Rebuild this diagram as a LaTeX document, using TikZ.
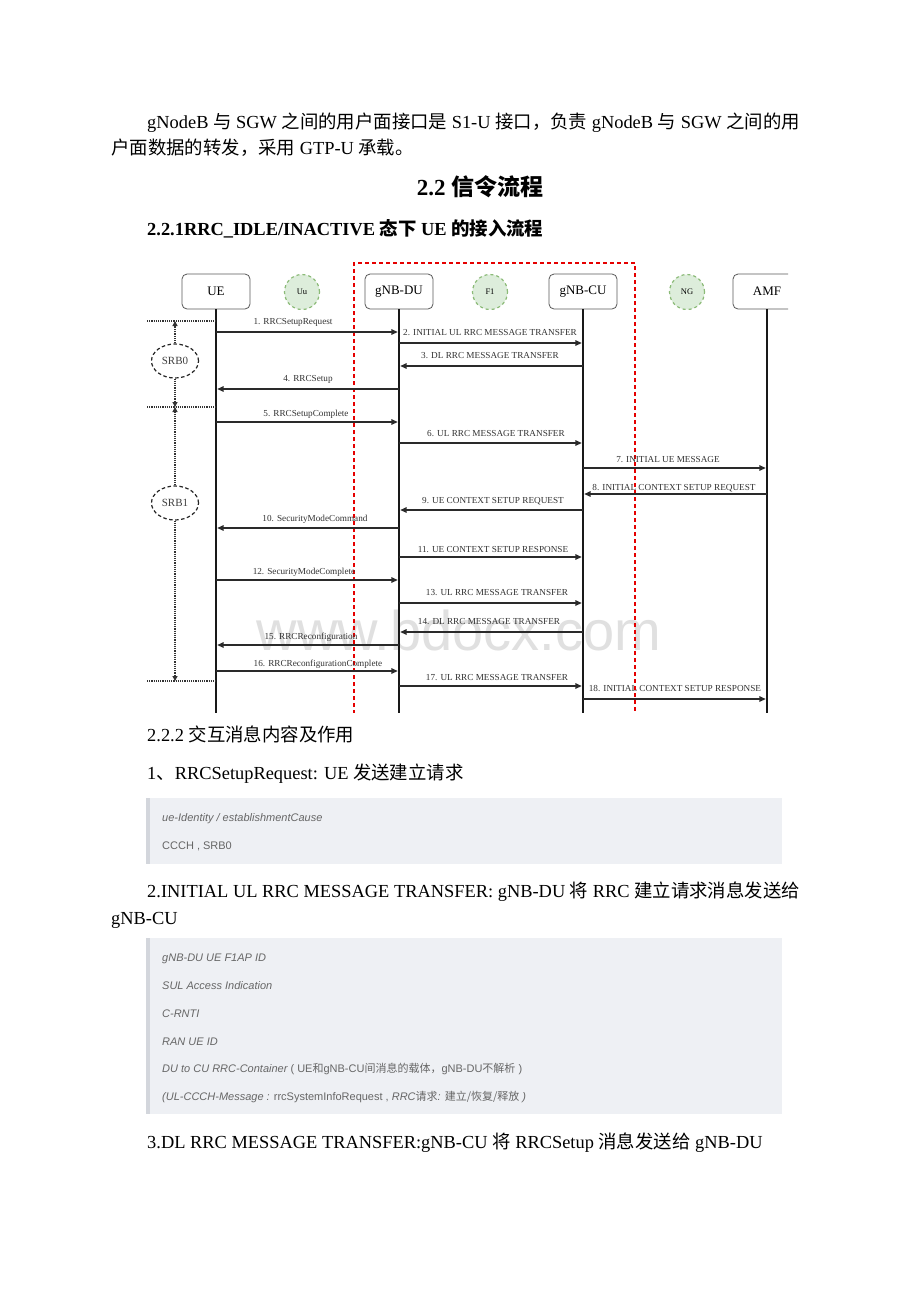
\documentclass[tikz,border=0pt]{standalone}
\usepackage{fontspec}
\setmainfont{Liberation Serif}
\newfontfamily\cjkf{Noto Sans CJK SC}
\newfontfamily\boxfont{Liberation Sans}
\usetikzlibrary{arrows.meta,shapes.geometric}
\newcommand\zh[1]{{\cjkf #1}}
\definecolor{boxbg}{HTML}{EEF0F4}
\definecolor{boxedge}{HTML}{D3D6DC}
\definecolor{boxtxt}{HTML}{666666}
\definecolor{greenfill}{HTML}{DDEDDB}
\definecolor{greenline}{HTML}{8CBB78}
\definecolor{msgc}{HTML}{2A2A2A}
\definecolor{wmc}{HTML}{E0E0E0}
\definecolor{lblc}{HTML}{333333}
\tikzset{
  body/.style={anchor=base west,inner sep=0pt,font=\fontsize{18.4}{22}\selectfont},
  head/.style={anchor=base west,inner sep=0pt,font=\fontsize{18.4}{22}\selectfont\bfseries},
  boxtext/.style={anchor=base west,inner sep=0pt,text=boxtxt,font=\boxfont\fontsize{11}{13}\selectfont},
  actor/.style={draw=black!65,line width=0.8pt,rounded corners=5pt,fill=white,minimum width=68pt,minimum height=35pt,inner sep=0pt,font=\fontsize{13}{15}\selectfont},
  iface/.style={circle,draw=greenline,fill=greenfill,dashed,line width=1.2pt,minimum size=35pt,inner sep=0pt,font=\fontsize{8.5}{9}\selectfont},
  srb/.style={ellipse,draw=black!85,dash pattern=on 3.5pt off 2.5pt,line width=1.2pt,minimum width=47pt,minimum height=34pt,inner sep=0pt,text=black!75,font=\fontsize{11}{13}\selectfont},
  life/.style={line width=2.6pt,draw=black!90},
  msg/.style={line width=1.5pt,draw=msgc,-{Triangle[length=6.5pt,width=5.5pt]},shorten >=1.2pt},
  lbl/.style={anchor=base,inner sep=0pt,text=lblc,font=\fontsize{9.2}{11}\selectfont},
  dotl/.style={densely dotted,line width=1.2pt,draw=black!80},
  dotarr/.style={densely dotted,line width=1.2pt,draw=black!80,-{Triangle[length=5pt,width=5pt]}},
  reddash/.style={draw=red!90!black,line width=1.6pt,dash pattern=on 4pt off 3pt}
}
\begin{document}
\begin{tikzpicture}[x=1pt,y=-1pt]
\useasboundingbox (0,0) rectangle (920,1302);
\fill[white] (0,0) rectangle (920,1302);

% ---- text above diagram ----
\node[body] (p1) at (147,128) {gNodeB \zh{与} SGW \zh{之间的用户面接口是} S1-U \zh{接口，负责} gNodeB \zh{与} SGW \zh{之间的用}};
\node[body] (p2) at (111,154) {\zh{户面数据的转发，采用} GTP-U \zh{承载。}};
\node[anchor=base,inner sep=0pt,font=\fontsize{23}{26}\selectfont\bfseries] (title) at (480,195) {2.2 \zh{信令流程}};
\node[head] (sub1) at (147,235) {2.2.1RRC\_IDLE/INACTIVE \zh{态下} UE \zh{的接入流程}};

% ---- diagram ----
\node[anchor=base,inner sep=0pt,text=wmc,font=\boxfont\fontsize{56}{60}\selectfont] (wmark) at (459,650) {www.bdocx.com};
\begin{scope}
\clip (140,255) rectangle (788,712);
\draw[reddash] (354,714) -- (354,263) -- (635,263) -- (635,714);
\node[actor] (UE) at (216,291.5) {UE};
\node[actor] (DU) at (399,291.5) {gNB-DU};
\node[actor] (CU) at (583,291.5) {gNB-CU};
\node[actor] (AMF) at (767,291.5) {AMF};
\node[iface] (Uu) at (302,292) {Uu};
\node[iface] (F1) at (490,292) {F1};
\node[iface] (NG) at (687,292) {NG};
\coordinate (bot) at (0,714);
\draw[life] (UE.south) -- (UE.south |- bot);
\draw[life] (DU.south) -- (DU.south |- bot);
\draw[life] (CU.south) -- (CU.south |- bot);
\draw[life] (AMF.south) -- (AMF.south |- bot);

\foreach \y/\a/\b/\t/\lx/\ly in {
  332/UE/DU/{1. RRCSetupRequest}/293/321,
  343/DU/CU/{2. INITIAL UL RRC MESSAGE TRANSFER}/490/332,
  366/CU/DU/{3. DL RRC MESSAGE TRANSFER}/490/355,
  389/DU/UE/{4. RRCSetup}/308/378,
  422/UE/DU/{5. RRCSetupComplete}/306/413,
  443/DU/CU/{6. UL RRC MESSAGE TRANSFER}/496/433,
  468/CU/AMF/{7. INITIAL UE MESSAGE}/668/459,
  494/AMF/CU/{8. INITIAL CONTEXT SETUP REQUEST}/674/487,
  510/CU/DU/{9. UE CONTEXT SETUP REQUEST}/493/500,
  528/DU/UE/{10. SecurityModeCommand}/315/518,
  557/DU/CU/{11. UE CONTEXT SETUP RESPONSE}/493/549,
  580/UE/DU/{12. SecurityModeComplete}/304/571,
  603/DU/CU/{13. UL RRC MESSAGE TRANSFER}/497/592,
  632/CU/DU/{14. DL RRC MESSAGE TRANSFER}/489/621,
  645/DU/UE/{15. RRCReconfiguration}/311/636,
  671/UE/DU/{16. RRCReconfigurationComplete}/318/663,
  686/DU/CU/{17. UL RRC MESSAGE TRANSFER}/497/677,
  699/CU/AMF/{18. INITIAL CONTEXT SETUP RESPONSE}/675/688}{
  \draw[msg] (\a |- 0,\y) -- (\b |- 0,\y);
  \node[lbl] (m\y) at (\lx,\ly+3) {\t};
}

% SRB brackets
\coordinate (b0) at (147,321);
\coordinate (b1) at (147,407);
\coordinate (b2) at (147,681);
\draw[dotl] (b0) -- (b0 -| UE);
\draw[dotl] (b1) -- (b1 -| UE);
\draw[dotl] (b2) -- (b2 -| UE);
\node[srb] (SRB0) at (175,361) {SRB0};
\node[srb] (SRB1) at (175,503) {SRB1};
\draw[dotarr] (SRB0.north) -- (SRB0.north |- b0);
\draw[dotarr] (SRB0.south) -- (SRB0.south |- b1);
\draw[dotarr] (SRB1.north) -- (SRB1.north |- b1);
\draw[dotarr] (SRB1.south) -- (SRB1.south |- b2);
\end{scope}

% ---- text below diagram ----
\node[body] (s222) at (147,741) {2.2.2 \zh{交互消息内容及作用}};
\node[body] (q1) at (147,779) {1\zh{、}RRCSetupRequest: UE \zh{发送建立请求}};
\fill[boxbg] (146,798) rectangle (782,864);
\fill[boxedge] (146,798) rectangle (149.5,864);
\node[boxtext] (b1a) at (162,821) {\itshape ue-Identity / establishmentCause};
\node[boxtext] (b1b) at (162,849) {CCCH , SRB0};

\node[body] (q2) at (147,897) {2.INITIAL UL RRC MESSAGE TRANSFER: gNB-DU \zh{将} RRC \zh{建立请求消息发送给}};
\node[body] (q2b) at (111,924) {gNB-CU};
\fill[boxbg] (146,938) rectangle (782,1114);
\fill[boxedge] (146,938) rectangle (149.5,1114);
\node[boxtext] (b2a) at (162,961) {\itshape gNB-DU UE F1AP ID};
\node[boxtext] (b2b) at (162,989) {\itshape SUL Access Indication};
\node[boxtext] (b2c) at (162,1017) {\itshape C-RNTI};
\node[boxtext] (b2d) at (162,1045) {\itshape RAN UE ID};
\node[boxtext] (b2e) at (162,1072) {{\itshape DU to CU RRC-Container} ( UE\zh{和}gNB-CU\zh{间消息的载体，}gNB-DU\zh{不解析} )};
\node[boxtext] (b2f) at (162,1100) {{\itshape (UL-CCCH-Message : }rrcSystemInfoRequest , {\itshape RRC\zh{请求}: \zh{建立/恢复/释放} )}};

\node[body] (q3) at (147,1148) {3.DL RRC MESSAGE TRANSFER:gNB-CU \zh{将} RRCSetup \zh{消息发送给} gNB-DU};
\end{tikzpicture}
\end{document}
